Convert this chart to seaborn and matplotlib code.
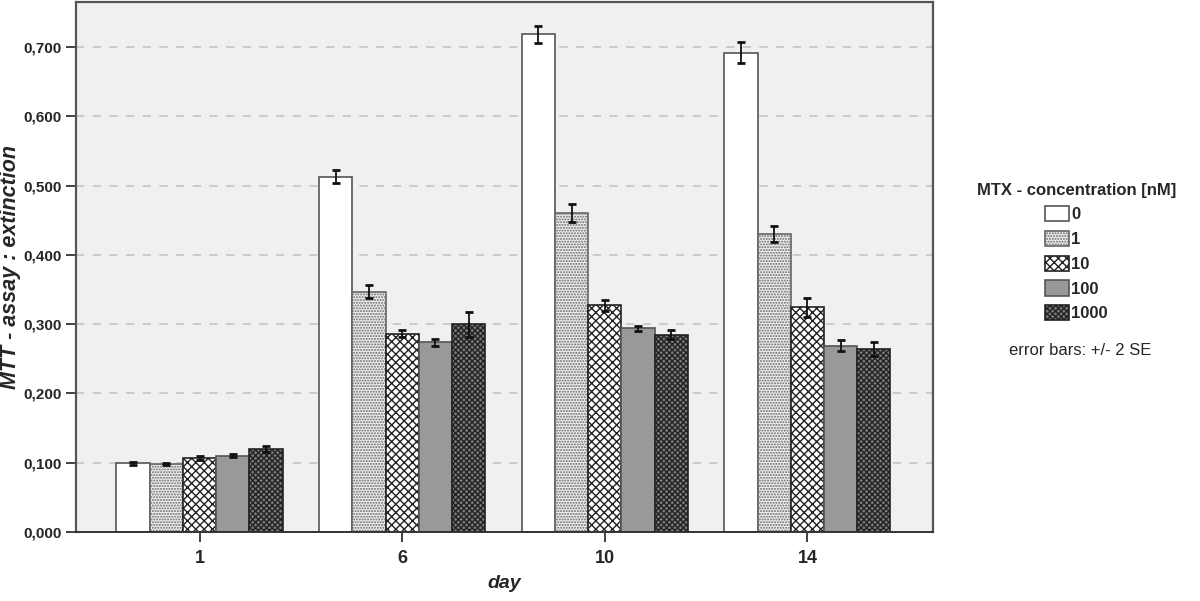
import numpy as np
import pandas as pd
import seaborn as sns
import matplotlib.pyplot as plt
from matplotlib.patches import Patch
from matplotlib.ticker import FuncFormatter

# values
days = ["1", "6", "10", "14"]
conc = ["0", "1", "10", "100", "1000"]
means = {
    "0":    [0.099, 0.513, 0.718, 0.692],
    "1":    [0.098, 0.347, 0.460, 0.430],
    "10":   [0.107, 0.286, 0.327, 0.324],
    "100":  [0.110, 0.274, 0.294, 0.269],
    "1000": [0.120, 0.300, 0.285, 0.264],
}
errs = {
    "0":    [0.002, 0.009, 0.012, 0.015],
    "1":    [0.002, 0.010, 0.013, 0.012],
    "10":   [0.003, 0.005, 0.008, 0.013],
    "100":  [0.002, 0.005, 0.004, 0.008],
    "1000": [0.004, 0.018, 0.006, 0.010],
}

# fill / hatch look for each concentration
styles = {
    "0":    dict(face="#ffffff", edge="#555555", hatch=None),
    "1":    dict(face="#f0f0f0", edge="#666666", hatch="......"),
    "10":   dict(face="#ffffff", edge="#222222", hatch="xxxx"),
    "100":  dict(face="#999999", edge="#555555", hatch=None),
    "1000": dict(face="#7a7a7a", edge="#222222", hatch="xxxxxx"),
}

rows = []
for c in conc:
    for i, d in enumerate(days):
        rows.append([d, c, means[c][i], errs[c][i]])
df = pd.DataFrame(rows, columns=["day", "conc", "value", "err"])

sns.set_style("ticks")
plt.rcParams["font.family"] = ["Liberation Sans", "DejaVu Sans"]
plt.rcParams["hatch.linewidth"] = 1.0

fig = plt.figure(figsize=(12, 6.01), dpi=100)
ax = fig.add_axes([0.0633, 0.1148, 0.7142, 0.882])
ax.set_facecolor("#f0f0f0")

sns.barplot(data=df, x="day", y="value", hue="conc", order=days, hue_order=conc,
            width=0.82, errorbar=None, legend=False, ax=ax, zorder=2)

for c, cont in zip(conc, ax.containers):
    st = styles[c]
    xs = []
    for p in cont.patches:
        p.set_facecolor(st["face"])
        p.set_edgecolor(st["edge"])
        p.set_linewidth(1.2)
        if st["hatch"]:
            p.set_hatch(st["hatch"])
        xs.append(p.get_x() + p.get_width() / 2)
    ax.errorbar(xs, means[c], yerr=errs[c], fmt="none", ecolor="#111111",
                elinewidth=1.3, capsize=3, capthick=2, zorder=3)

ax.set_ylim(0, 0.765)
ax.set_xlim(-0.61, 3.62)
ax.set_yticks(np.arange(0, 0.71, 0.1))
ax.yaxis.set_major_formatter(FuncFormatter(lambda v, p: f"{v:.3f}".replace(".", ",")))
for y in np.arange(0.1, 0.71, 0.1):
    ax.axhline(y, color="#c4c4c4", lw=1.2, ls=(0, (5, 5)), zorder=1)

ax.tick_params(axis="both", direction="out", length=7, width=1.3, color="#333333")
ax.tick_params(axis="x", pad=6)
for lab in ax.get_yticklabels():
    lab.set_fontsize(11)
    lab.set_fontweight("bold")
for lab in ax.get_xticklabels():
    lab.set_fontsize(13)
    lab.set_fontweight("bold")

for side in ["left", "top", "right"]:
    ax.spines[side].set_color("#555555")
    ax.spines[side].set_linewidth(1.6)
ax.spines["bottom"].set_color("#333333")
ax.spines["bottom"].set_linewidth(1.4)

ax.set_xlabel("day", fontsize=14, fontweight="bold", style="italic", labelpad=6)
ax.set_ylabel("MTT - assay : extinction", fontsize=15.5, fontweight="bold", style="italic")
ax.yaxis.set_label_coords(-0.064, 0.5)

handles = [Patch(facecolor=styles[c]["face"], edgecolor=styles[c]["edge"],
                 hatch=styles[c]["hatch"], linewidth=1.2) for c in conc]
leg = fig.legend(handles, conc, title="MTX - concentration [nM]",
                 loc="upper center", bbox_to_anchor=(0.897, 0.721), frameon=False,
                 prop={"weight": "bold", "size": 12}, handlelength=1.4,
                 handleheight=1.05, handletextpad=0.15, labelspacing=0.5)
leg.get_title().set_fontweight("bold")
leg.get_title().set_fontsize(12)

fig.text(0.9, 0.416, "error bars: +/- 2 SE", ha="center", va="center", fontsize=12)

plt.savefig("out.png", dpi=100)
